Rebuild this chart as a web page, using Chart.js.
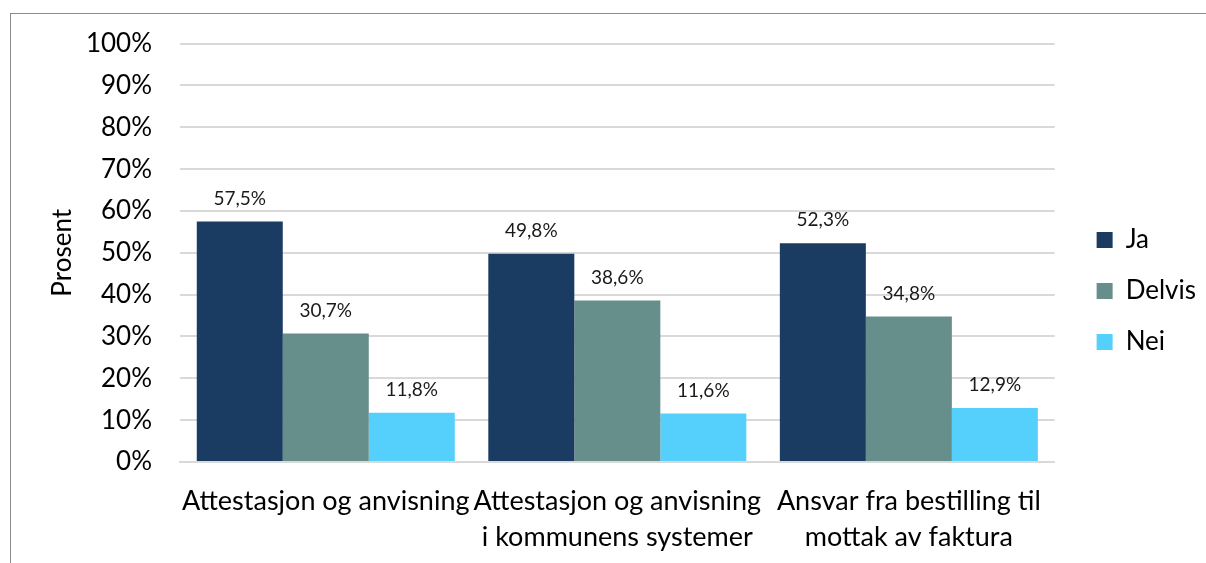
<!DOCTYPE html>
<html>
<head>
<meta charset="utf-8">
<script src="https://cdn.jsdelivr.net/npm/chart.js@4"></script>
<style>
    html, body { margin: 0; padding: 0; background: #fff; }
    #wrap { position: relative; width: 1206px; height: 563px; overflow: hidden; }
    #frame { position: absolute; left: 10px; top: 13px; width: 1300px; height: 700px; border: 1px solid #8c8c8c; box-sizing: border-box; }
    canvas { position: absolute; left: 0; top: 0; }
</style>
</head>
<body>
<div id="wrap">
    <div id="frame"></div>
    <canvas id="chart" width="1206" height="563"></canvas>
</div>
<script>
const categories = [
    ['Attestasjon og anvisning'],
    ['Attestasjon og anvisning', 'i kommunens systemer'],
    ['Ansvar fra bestilling til', 'mottak av faktura'],
];
const seriesNames = ['Ja', 'Delvis', 'Nei'];
const jaValues = [57.5, 49.8, 52.3];
const delvisValues = [30.7, 38.6, 34.8];
const neiValues = [11.8, 11.6, 12.9];
const yTicks = [0, 10, 20, 30, 40, 50, 60, 70, 80, 90, 100];

const FONT = 'Lato, "Open Sans", sans-serif';

function pct(v) {
    return v.toFixed(1).replace('.', ',') + '%';
}

// labels above each bar, placed from the bar elements
const barLabels = {
    id: 'barLabels',
    afterDatasetsDraw(chart) {
        const ctx = chart.ctx;
        ctx.save();
        ctx.font = '19px ' + FONT;
        ctx.fillStyle = '#1a1a1a';
        ctx.textAlign = 'center';
        ctx.textBaseline = 'middle';
        chart.data.datasets.forEach(function (ds, i) {
            chart.getDatasetMeta(i).data.forEach(function (bar, j) {
                ctx.fillText(pct(ds.data[j]), bar.x, bar.y - 23);
            });
        });
        ctx.restore();
    },
};

new Chart(document.getElementById('chart'), {
    type: 'bar',
    data: {
        labels: categories,
        datasets: [
            { label: seriesNames[0], data: jaValues, backgroundColor: '#1a3c63' },
            { label: seriesNames[1], data: delvisValues, backgroundColor: '#668f8b' },
            { label: seriesNames[2], data: neiValues, backgroundColor: '#55cffc' },
        ],
    },
    options: {
        responsive: false,
        animation: false,
        layout: { padding: { top: 19, right: 0, bottom: 0, left: 0 } },
        datasets: { bar: { categoryPercentage: 0.885, barPercentage: 1 } },
        plugins: {
            tooltip: { enabled: false },
            legend: {
                position: 'right',
                labels: {
                    color: '#000',
                    font: { family: FONT, size: 26 },
                    boxWidth: 16,
                    boxHeight: 16,
                    padding: 25,
                },
            },
        },
        scales: {
            x: {
                grid: { display: false, drawTicks: false },
                border: { color: '#d9d9d9', width: 2 },
                ticks: {
                    color: '#000',
                    font: { family: FONT, size: 27, lineHeight: 1.333 },
                    padding: 21,
                    maxRotation: 0,
                    autoSkip: false,
                },
                afterFit(scale) { scale.height = 101; },
            },
            gapTop: {
                type: 'linear',
                position: 'top',
                display: true,
                grid: { display: false, drawTicks: false },
                border: { display: false },
                ticks: { display: false },
                afterFit(scale) { scale.height = 24.5; },
            },
            y: {
                min: 0,
                max: 100,
                afterBuildTicks(scale) {
                    scale.ticks = yTicks.map(function (v) { return { value: v }; });
                },
                grid: { color: '#d9d9d9', lineWidth: 2, drawTicks: false },
                border: { display: false },
                ticks: {
                    color: '#000',
                    font: { family: FONT, size: 26 },
                    padding: 28,
                    callback: function (v) { return v + '%'; },
                },
                title: {
                    display: true,
                    text: 'Prosent',
                    color: '#000',
                    font: { family: FONT, size: 26 },
                    padding: { top: 47, bottom: 0 },
                },
                afterFit(scale) { scale.width = 180; },
            },
            gap: {
                position: 'right',
                display: true,
                grid: { display: false, drawTicks: false },
                border: { display: false },
                ticks: { display: false },
                afterFit(scale) { scale.width = 17; },
            },
        },
    },
    plugins: [barLabels],
});
</script>
</body>
</html>
